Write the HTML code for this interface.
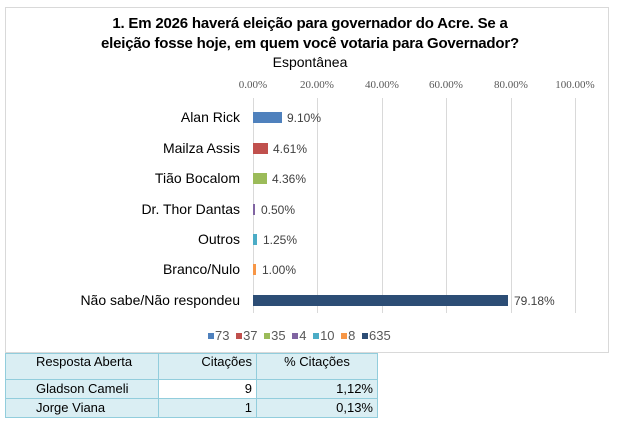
<!DOCTYPE html>
<html><head><meta charset="utf-8"><style>
body{margin:0;width:620px;height:425px;background:#fff;position:relative;font-family:"Liberation Sans",sans-serif;overflow:hidden}
.box{position:absolute;left:5px;top:7px;width:604px;height:346px;border:1px solid #d9d9d9;box-sizing:border-box}
.t{position:absolute;left:0;width:620px;text-align:center;color:#000}
.ax{position:absolute;top:79px;font-family:"Liberation Serif",serif;font-size:11px;color:#595959;transform:translateX(-50%)}
.g{position:absolute;top:98px;height:215px;width:1px;background:#d9d9d9}
.cat{position:absolute;right:380px;font-size:14px;color:#000;text-align:right;white-space:nowrap}
.bar{position:absolute;left:253px;height:11px}
.v{position:absolute;font-size:12px;color:#404040}
.lg{position:absolute;top:328px;left:205px;font-size:13px;color:#595959;white-space:nowrap}
.lg i{display:inline-block;width:6px;height:6px;margin:0 1px 1px 3px}
table{position:absolute;left:5px;top:353px;border-collapse:collapse;font-size:13px;background:#daeef3}
td{border:1px solid #92cddc;padding:0 4px;height:18px;line-height:16px}
</style></head><body>
<div class="box"></div>
<div class="t" style="top:14px;font-size:15px;font-weight:bold;line-height:20px;letter-spacing:-0.2px">1. Em 2026 haverá eleição para governador do Acre. Se a<br>eleição fosse hoje, em quem você votaria para Governador?</div>
<div class="t" style="top:54px;font-size:14px">Espontânea</div>
<div class="ax" style="left:253px">0.00%</div><div class="ax" style="left:317px">20.00%</div><div class="ax" style="left:382px">40.00%</div><div class="ax" style="left:446px">60.00%</div><div class="ax" style="left:511px">80.00%</div><div class="ax" style="left:575px">100.00%</div>
<div class="g" style="left:253px"></div><div class="g" style="left:317px"></div><div class="g" style="left:382px"></div><div class="g" style="left:446px"></div><div class="g" style="left:511px"></div><div class="g" style="left:575px"></div>

<div class="cat" style="top:109px">Alan Rick</div><div class="bar" style="top:112px;width:29px;background:#4f81bd"></div><div class="v" style="top:111px;left:287px">9.10%</div>
<div class="cat" style="top:140px">Mailza Assis</div><div class="bar" style="top:143px;width:15px;background:#c0504d"></div><div class="v" style="top:142px;left:273px">4.61%</div>
<div class="cat" style="top:170px">Tião Bocalom</div><div class="bar" style="top:173px;width:14px;background:#9bbb59"></div><div class="v" style="top:172px;left:272px">4.36%</div>
<div class="cat" style="top:201px">Dr. Thor Dantas</div><div class="bar" style="top:204px;width:2px;background:#8064a2"></div><div class="v" style="top:203px;left:261px">0.50%</div>
<div class="cat" style="top:231px">Outros</div><div class="bar" style="top:234px;width:4px;background:#4bacc6"></div><div class="v" style="top:233px;left:263px">1.25%</div>
<div class="cat" style="top:261px">Branco/Nulo</div><div class="bar" style="top:264px;width:3px;background:#f79646"></div><div class="v" style="top:263px;left:262px">1.00%</div>
<div class="cat" style="top:292px">Não sabe/Não respondeu</div><div class="bar" style="top:295px;width:255px;background:#2c4d75"></div><div class="v" style="top:294px;left:514px">79.18%</div>

<div class="lg"><i style="background:#4f81bd"></i>73 <i style="background:#c0504d"></i>37 <i style="background:#9bbb59"></i>35 <i style="background:#8064a2"></i>4 <i style="background:#4bacc6"></i>10 <i style="background:#f79646"></i>8 <i style="background:#2c4d75"></i>635</div>

<table>
<tr><td style="height:26px;vertical-align:top;padding-left:30px;box-sizing:border-box;width:153px">Resposta Aberta</td><td style="width:89px;text-align:right;vertical-align:top">Citações</td><td style="width:112px;text-align:center;vertical-align:top">% Citações</td></tr>
<tr><td style="padding-left:30px">Gladson Cameli</td><td style="text-align:right;background:#fff">9</td><td style="text-align:right">1,12%</td></tr>
<tr><td style="padding-left:30px">Jorge Viana</td><td style="text-align:right">1</td><td style="text-align:right">0,13%</td></tr>
</table>
</body></html>
